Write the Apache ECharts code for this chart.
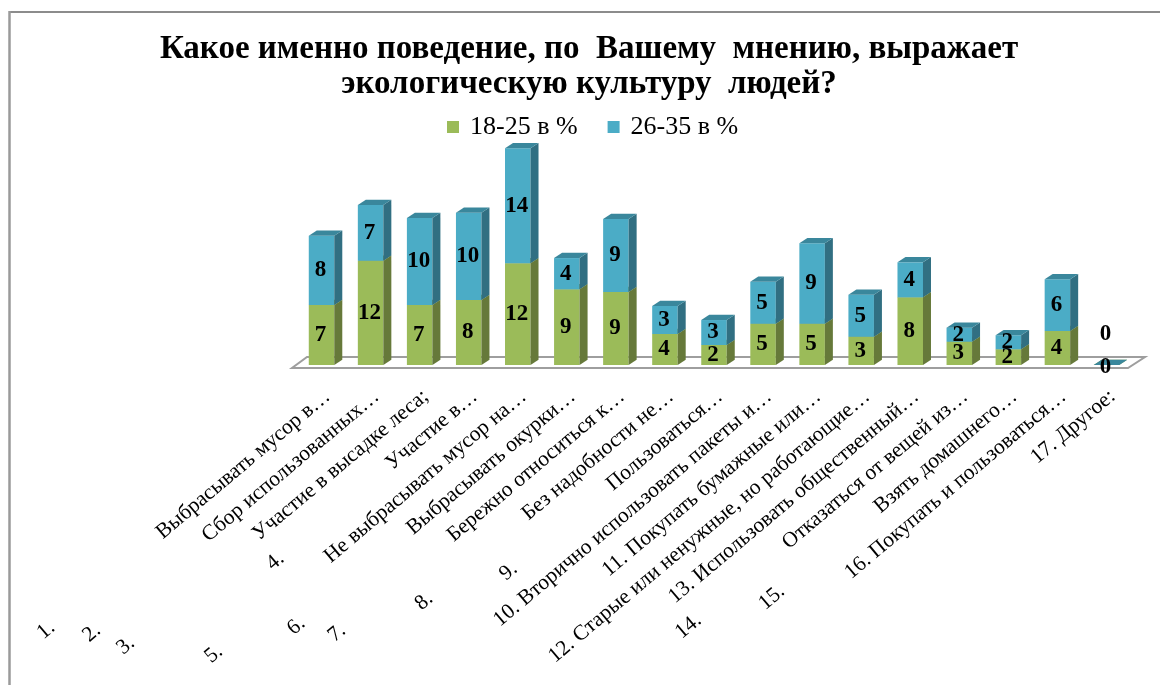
<!DOCTYPE html>
<html><head><meta charset="utf-8">
<style>html,body{margin:0;padding:0;background:#fff}#c{width:1160px;height:685px}</style>
<script src="https://cdn.jsdelivr.net/npm/echarts@6/dist/echarts.min.js"></script>
</head><body><div id="c"></div>
<script>
const titleText = 'Какое именно поведение, по  Вашему  мнению, выражает\nэкологическую культуру  людей?';
const seriesNames = ['18-25 в %', '26-35 в %'];
const labelNumbers = ['1.','2.','3.','4.','5.','6.','7.','8.','9.','10.','11.','12.','13.','14.','15.','16.','17.'];
const labelTexts = ['Выбрасывать мусор в…','Сбор использованных…','Участие в высадке леса;','Участие в…','Не выбрасывать мусор на…','Выбрасывать окурки…','Бережно относиться к…','Без надобности не…','Пользоваться…','Вторично использовать пакеты и…','Покупать бумажные или…','Старые или ненужные, но работающие…','Использовать общественный…','Отказаться от вещей из…','Взять домашнего…','Покупать и пользоваться…','Другое:'];
const labelGaps = [26,26,30,26,26,26,26,23,23,1,1,1,1,21,23,1,1];
const categories = labelNumbers.map((n,i)=> n + ' '.repeat(labelGaps[i]) + labelTexts[i]);
const young = [7.06,12.27,7.06,7.65,11.96,8.9,8.59,3.65,2.35,4.86,4.86,3.33,7.96,2.74,1.85,4.0,0];
const older = [8.15,6.55,10.24,10.27,13.53,3.68,8.59,3.29,2.94,4.94,9.46,4.94,4.12,1.65,1.65,6.08,0];
const colors = {
  young:{front:'#9BBB59',side:'#66793A',top:'#7D9848'},
  older:{front:'#4BACC6',side:'#316F82',top:'#3A879C'}
};
const chart = echarts.init(document.getElementById('c'),null,{renderer:'canvas'});
const DX=8, DY=5.3;
function cuboid(pal, labelDy){
  return function(params, api){
    const i=api.value(0), lo=api.value(1), hi=api.value(2);
    const w=api.size([1,0])[0]*0.52;
    const pLo=api.coord([i,lo]), pHi=api.coord([i,hi]);
    const x=pLo[0]-w/2, yb=pLo[1], yt=pHi[1];
    const kids=[];
    if(hi>lo){
      kids.push({type:'rect',shape:{x,y:yt,width:w,height:yb-yt},style:{fill:pal.front}});
      kids.push({type:'polygon',shape:{points:[[x+w,yb],[x+w+DX,yb-DY],[x+w+DX,yt-DY],[x+w,yt]]},style:{fill:pal.side}});
    }
    kids.push({type:'polygon',shape:{points:[[x,yt],[x+w,yt],[x+w+DX,yt-DY],[x+DX,yt-DY]]},style:{fill:pal.top}});
    kids.push({type:'text',z2:100,style:{text:String(Math.round(hi-lo)),x:x+w/2-1,y:(yb+yt)/2+labelDy(hi-lo),
      align:'center',verticalAlign:'middle',font:'bold 23px "Liberation Serif"',fill:'#000'}});
    return {type:'group',children:kids};
  };
}
const cum=young.map((v,i)=>v+older[i]);
chart.setOption({
  animation:false,
  backgroundColor:'#fff',
  graphic:[
    {type:'line',silent:true,shape:{x1:9,y1:12,x2:1160,y2:12},style:{stroke:'#8C8C8C',lineWidth:2}},
    {type:'line',silent:true,shape:{x1:9.5,y1:11,x2:9.5,y2:685},style:{stroke:'#9A9A9A',lineWidth:2.5}}
  ],
  title:{text:titleText,left:584,top:27,textAlign:'center',
    textStyle:{fontFamily:'Liberation Serif',fontWeight:'bold',fontSize:33,lineHeight:35,color:'#000'}},
  legend:{left:442,top:109,itemWidth:12,itemHeight:12,itemGap:30,icon:'rect',
    data:seriesNames,textStyle:{fontFamily:'Liberation Serif',fontSize:26,color:'#000',padding:[0,0,0,6]}},
  grid:{left:297,top:110,width:834,height:255},
  xAxis:{type:'category',data:categories,axisLine:{show:false},axisTick:{show:false},
    axisLabel:{interval:0,rotate:40,margin:34,padding:[0,-8,0,0],fontFamily:'Liberation Serif',fontSize:21.5,color:'#000',hideOverlap:false}},
  yAxis:{type:'value',min:0,max:30,show:false,splitLine:{show:false}},
  series:[
    {type:'custom',name:'floor',silent:true,z:1,data:[[0,0,0]],legendHoverLink:false,
     renderItem(params,api){
       const cs=params.coordSys, y0=api.coord([0,0])[1];
       return {type:'polygon',shape:{points:[[cs.x-5,y0+3],[cs.x+cs.width-3,y0+3],[cs.x+cs.width+14,y0-8],[cs.x+10,y0-8]]},
         style:{fill:'#fff',stroke:'#9E9E9E',lineWidth:2}};
     }},
    {type:'custom',name:seriesNames[0],z:2,itemStyle:{color:colors.young.front},
     data:young.map((v,i)=>[i,0,v]),renderItem:cuboid(colors.young,d=>d===0?2:0),encode:{x:0,y:2}},
    {type:'custom',name:seriesNames[1],z:2,itemStyle:{color:colors.older.front},
     data:older.map((v,i)=>[i,young[i],cum[i]]),renderItem:cuboid(colors.older,d=>d===0?-31:0),encode:{x:0,y:2}}
  ]
});
</script></body></html>
